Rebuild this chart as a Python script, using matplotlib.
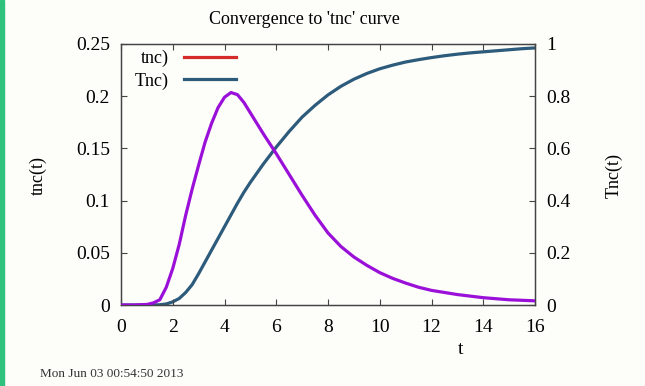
import matplotlib
matplotlib.use("Agg")
import matplotlib.pyplot as plt
from matplotlib.patches import Rectangle

# data
t = [0, 0.5, 1.0, 1.25, 1.5, 1.75, 2.0, 2.25, 2.5, 2.75, 3.0, 3.25, 3.5, 3.75, 4.0,
     4.25, 4.5, 4.75, 5.0, 5.5, 6.0, 6.5, 7.0, 7.5, 8.0, 8.5, 9.0, 9.5, 10.0,
     10.5, 11.0, 11.5, 12.0, 12.5, 13.0, 13.5, 14.0, 14.5, 15.0, 15.5, 16.0]
tnc = [0, 0, 0.0005, 0.002, 0.005, 0.017, 0.035, 0.058, 0.086, 0.111, 0.134, 0.156,
       0.174, 0.189, 0.199, 0.2035, 0.2015, 0.194, 0.184, 0.164, 0.145, 0.125, 0.105,
       0.086, 0.069, 0.056, 0.046, 0.038, 0.031, 0.0255, 0.021, 0.017, 0.014, 0.012,
       0.010, 0.0085, 0.007, 0.006, 0.005, 0.0045, 0.004]
Tnc = [0, 0, 0, 0, 0.001, 0.004, 0.012, 0.025, 0.048, 0.078, 0.120, 0.165, 0.210,
       0.255, 0.300, 0.345, 0.390, 0.432, 0.470, 0.540, 0.605, 0.665, 0.720, 0.765,
       0.805, 0.838, 0.865, 0.887, 0.905, 0.919, 0.931, 0.940, 0.948, 0.955, 0.961,
       0.966, 0.970, 0.974, 0.978, 0.982, 0.985]

xticks = [0, 2, 4, 6, 8, 10, 12, 14, 16]
lticks = [0, 0.05, 0.1, 0.15, 0.2, 0.25]
rticks = [0, 0.2, 0.4, 0.6, 0.8, 1]

plt.rcParams['font.family'] = 'Liberation Serif'
bg = '#fdfdf9'
fig = plt.figure(figsize=(6.45, 3.86), dpi=100, facecolor=bg)
ax = fig.add_axes([121/645, 1 - 305/386, (535 - 121)/645, (305 - 44)/386])
ax.set_facecolor(bg)
ax2 = ax.twinx()

ax.plot(t, tnc, color='#9a10d8', lw=2.3, zorder=3)
ax2.plot(t, Tnc, color='#2d5b7c', lw=2.3)
ax.set_zorder(ax2.get_zorder() + 1)
ax.patch.set_visible(False)

ax.set_xlim(0, 16)
ax.set_ylim(0, 0.25)
ax2.set_ylim(0, 1)
ax.set_xticks(xticks)
ax.set_xticklabels([str(v) for v in xticks])
ax.set_yticks(lticks)
ax.set_yticklabels(['0', '0.05', '0.1', '0.15', '0.2', '0.25'])
ax2.set_yticks(rticks)
ax2.set_yticklabels(['0', '0.2', '0.4', '0.6', '0.8', '1'])

ax.tick_params(axis='x', direction='in', top=True, length=4, labelsize=14, pad=10, color='#444444')
ax.tick_params(axis='y', direction='in', length=4, labelsize=14, pad=8, color='#444444')
ax2.tick_params(axis='y', direction='in', length=4, labelsize=14, pad=8, color='#444444')
for a in (ax, ax2):
    for s in a.spines.values():
        s.set_color('#444444')
        s.set_linewidth(0.9)

# legend (gnuplot style: text then sample line)
h1, = ax.plot([], [], color='#d42a2a', lw=2.3)
h2, = ax.plot([], [], color='#2d5b7c', lw=2.3)
ax.legend([h1, h2], ['tnc)', 'Tnc)'], loc='upper left', bbox_to_anchor=(-0.005, 1.04),
          frameon=False, markerfirst=False, fontsize=13, handlelength=2.9,
          handletextpad=0.8, labelspacing=0.3)

fig.text(304/645, 1 - 19/386, "Convergence to 'tnc' curve", ha='center', va='center', fontsize=13)
fig.text(461/645, 1 - 350/386, 't', ha='center', va='center', fontsize=14)
fig.text(38/645, 1 - 175/386, 'tnc(t)', ha='center', va='center', rotation=90, fontsize=13)
fig.text(614/645, 1 - 175/386, 'Tnc(t)', ha='center', va='center', rotation=90, fontsize=13)
fig.text(40/645, 1 - 377/386, 'Mon Jun 03 00:54:50 2013', ha='left', va='baseline', fontsize=9.5, color='#333333')

fig.patches.append(Rectangle((0, 0), 4/645, 1, transform=fig.transFigure, color='#2ec27e'))

fig.savefig('out.png', dpi=100, facecolor=bg)
